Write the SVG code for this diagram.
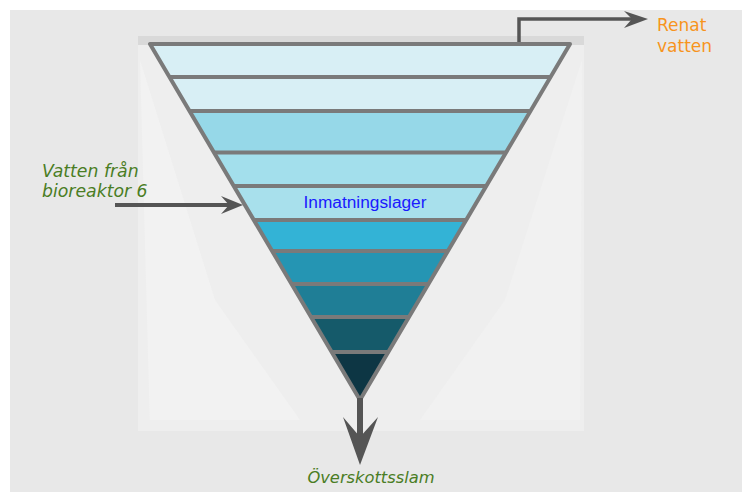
<svg xmlns="http://www.w3.org/2000/svg" width="742" height="492" viewBox="0 0 742 492">
  <defs>
    <style>
      .sep { stroke: #7a7a7a; stroke-width: 4; fill: none; }
      .pipe { stroke: #555555; fill: none; }
      .head { fill: #555555; }
      .lbl-green { font-family: "DejaVu Sans", Verdana, sans-serif; font-style: italic; fill: #4a7d24; }
      .lbl-orange { font-family: "DejaVu Sans", Verdana, sans-serif; font-size: 17px; fill: #f7941d; }
      .lbl-blue { font-family: "Liberation Sans", Arial, sans-serif; font-size: 17.3px; fill: #1a1aff; }
    </style>
  </defs>

  <!-- page -->
  <rect x="0" y="0" width="742" height="492" fill="#ffffff"/>
  <rect x="10" y="10" width="732" height="482" fill="#e8e8e8"/>

  <!-- backdrop panel behind the funnel -->
  <g id="backdrop">
    <rect x="138" y="36" width="446" height="395" fill="#eeeeee"/>
    <rect x="138" y="36" width="446" height="9" fill="#d9d9d9"/>
    <path d="M140 60 L215 300 L300 420 L150 428 Z" fill="#f2f2f2"/>
    <path d="M582 60 L505 300 L420 420 L580 428 Z" fill="#f1f1f1"/>
    <rect x="138" y="420" width="446" height="11" fill="#eeeeee"/>
  </g>

  <!-- funnel layers, top to bottom -->
  <g id="funnel">
    <g id="layer1"><polygon points="150,44 570,44 550.5,77 169.5,77" fill="#d8eff5"/></g>
    <g id="layer2"><polygon points="169.5,77 550.5,77 530.5,111 189.5,111" fill="#d8eff5"/></g>
    <g id="layer3"><polygon points="189.5,111 530.5,111 506,152.5 214,152.5" fill="#96d8e8"/></g>
    <g id="layer4"><polygon points="214,152.5 506,152.5 486.2,186 233.8,186" fill="#a3dfec"/></g>
    <g id="layer5">
      <polygon points="233.8,186 486.2,186 466.2,220 253.8,220" fill="#a8e0ec"/>
      <text class="lbl-blue" x="365" y="208" text-anchor="middle">Inmatningslager</text>
    </g>
    <g id="layer6"><polygon points="253.8,220 466.2,220 447.9,251 272.1,251" fill="#33b3d6"/></g>
    <g id="layer7"><polygon points="272.1,251 447.9,251 428.4,284 291.6,284" fill="#2595b3"/></g>
    <g id="layer8"><polygon points="291.6,284 428.4,284 409,317 311,317" fill="#1f7e96"/></g>
    <g id="layer9"><polygon points="311,317 409,317 388.3,352 331.7,352" fill="#155a6a"/></g>
    <g id="layer10"><polygon points="331.7,352 388.3,352 360,400" fill="#0d3644"/></g>

    <g id="separators">
      <line class="sep" x1="169.5" y1="77" x2="550.5" y2="77"/>
      <line class="sep" x1="189.5" y1="111" x2="530.5" y2="111"/>
      <line class="sep" x1="214" y1="152.5" x2="506" y2="152.5"/>
      <line class="sep" x1="233.8" y1="186" x2="486.2" y2="186"/>
      <line class="sep" x1="253.8" y1="220" x2="466.2" y2="220"/>
      <line class="sep" x1="272.1" y1="251" x2="447.9" y2="251"/>
      <line class="sep" x1="291.6" y1="284" x2="428.4" y2="284"/>
      <line class="sep" x1="311" y1="317" x2="409" y2="317"/>
      <line class="sep" x1="331.7" y1="352" x2="388.3" y2="352"/>
      <polygon class="sep" points="150,44 570,44 360,400" stroke-linejoin="round"/>
    </g>
  </g>

  <!-- flows in and out -->
  <g id="connectors">
    <!-- clean water outlet -->
    <polyline class="pipe" points="519,42 519,19 636,19" stroke-width="3.5"/>
    <polygon class="head" points="648,19 624,11 632,19 624,28"/>
    <!-- inflow from bioreactor -->
    <line class="pipe" x1="115" y1="205" x2="232" y2="205" stroke-width="4"/>
    <polygon class="head" points="243,205 221,196 229,205 221,214"/>
    <!-- sludge outlet -->
    <line class="pipe" x1="360" y1="398" x2="360" y2="442" stroke-width="6"/>
    <polygon class="head" points="360,465 343,417 360,437 378,417"/>
  </g>

  <!-- labels -->
  <g id="label-renat">
    <text class="lbl-orange" x="657" y="31">Renat</text>
    <text class="lbl-orange" x="657" y="52">vatten</text>
  </g>
  <g id="label-inflow">
    <text class="lbl-green" x="42" y="177" font-size="17.3">Vatten från</text>
    <text class="lbl-green" x="42" y="197" font-size="17.3">bioreaktor 6</text>
  </g>
  <g id="label-sludge">
    <text class="lbl-green" x="371" y="483" font-size="16.3" text-anchor="middle">Överskottsslam</text>
  </g>
</svg>
